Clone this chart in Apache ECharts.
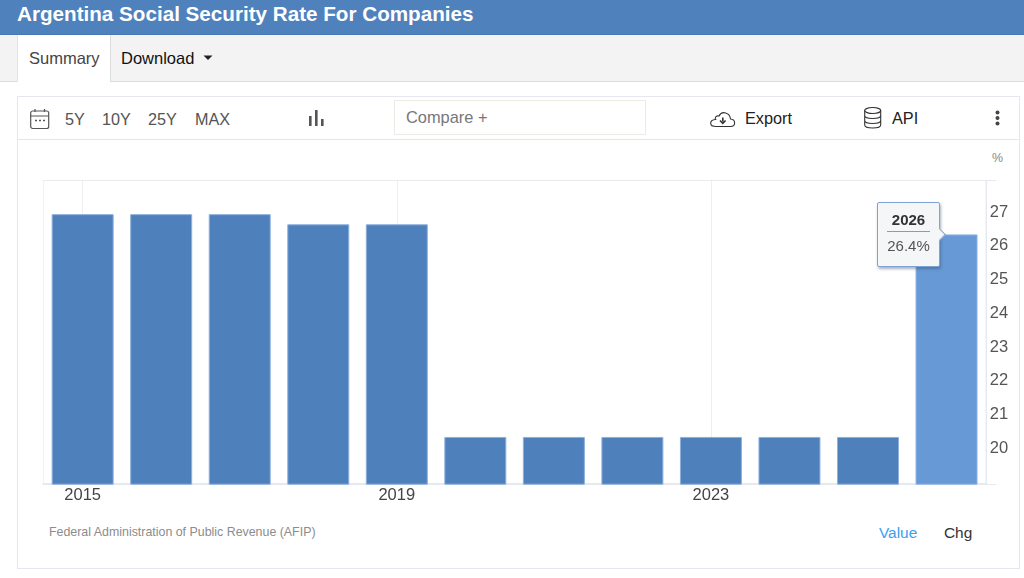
<!DOCTYPE html>
<html>
<head>
<meta charset="utf-8">
<title>Argentina Social Security Rate For Companies</title>
<script src="https://cdn.jsdelivr.net/npm/echarts@6/dist/echarts.min.js"></script>
<style>
html,body{margin:0;padding:0;width:1024px;height:578px;overflow:hidden;background:#fff;font-family:"Liberation Sans",Arial,sans-serif;}
.abs{position:absolute;white-space:nowrap;}
#chart{position:absolute;left:0;top:0;width:1024px;height:578px;}
svg{position:absolute;overflow:visible;}
</style>
</head>
<body>
<div class="abs" style="left:0;top:0;width:1024px;height:35px;background:#4f81bd;border-bottom:1px solid #4878b2;box-sizing:border-box;"></div>
<div class="abs" style="left:17px;top:1px;font-size:20.65px;line-height:26px;font-weight:bold;color:#fff;">Argentina Social Security Rate For Companies</div>
<div class="abs" style="left:0;top:35px;width:1024px;height:47px;background:#f3f3f3;border-bottom:1px solid #dcdcdc;box-sizing:border-box;"></div>
<div class="abs" style="left:17px;top:35px;width:94px;height:47px;background:#fff;border-left:1px solid #e4e4e4;border-right:1px solid #dcdcdc;box-sizing:border-box;"></div>
<div class="abs" style="left:29px;top:48px;font-size:16.5px;line-height:20px;color:#444;">Summary</div>
<div class="abs" style="left:121px;top:48px;font-size:16.5px;line-height:20px;color:#111;">Download</div>
<svg style="left:203px;top:55px" width="10" height="6"><path d="M0.5 0.5H9.5L5 5Z" fill="#222"/></svg>

<div class="abs" style="left:17px;top:96px;width:1003px;height:473px;border:1px solid #e6e6ee;box-sizing:border-box;"></div>
<div class="abs" style="left:18px;top:139px;width:1001px;height:1px;background:#e6e6e6;"></div>

<svg style="left:30px;top:108px" width="20" height="22" fill="none" stroke="#555" stroke-width="1.2">
  <rect x="0.7" y="3" width="18" height="17.5" rx="2"/><path d="M0.7 8H18.7M5 1V4M14.5 1V4"/>
  <path d="M5 12.5H7M9 12.5H11M13 12.5H15" stroke-width="1.6"/>
</svg>
<div class="abs" style="left:65px;top:109px;font-size:16.2px;line-height:20px;color:#555;">5Y</div>
<div class="abs" style="left:102px;top:109px;font-size:16.2px;line-height:20px;color:#555;">10Y</div>
<div class="abs" style="left:148px;top:109px;font-size:16.2px;line-height:20px;color:#555;">25Y</div>
<div class="abs" style="left:195px;top:109px;font-size:16.2px;line-height:20px;color:#555;">MAX</div>
<svg style="left:309px;top:110px" width="15" height="16" fill="#555">
  <rect x="0" y="6" width="2.6" height="10"/><rect x="6" y="0" width="2.6" height="16"/><rect x="12" y="9" width="2.6" height="7"/>
</svg>
<div class="abs" style="left:394px;top:100px;width:252px;height:35px;border:1px solid #ecece6;box-sizing:border-box;"></div>
<div class="abs" style="left:406px;top:107px;font-size:16.4px;line-height:20px;color:#777;">Compare +</div>
<svg style="left:710px;top:110px" width="26" height="18" fill="none" stroke="#333" stroke-width="1.1">
  <path d="M6 16.5H20.5C26 16.5 26 9.5 20.5 9C20 3 12 0 9 6C5 5 5 9 5.5 9.5C-1 10 -1 16.5 6 16.5Z"/>
  <path d="M12.8 7.5V11.5M10 10.5L12.8 13.3L15.6 10.5" stroke-width="1.6"/>
</svg>
<div class="abs" style="left:745px;top:108px;font-size:16.3px;line-height:20px;color:#222;">Export</div>
<svg style="left:864px;top:107px" width="18" height="22" fill="none" stroke="#333" stroke-width="1.1">
  <ellipse cx="8.7" cy="3.5" rx="8" ry="3"/>
  <path d="M0.7 3.5V18C0.7 22 16.7 22 16.7 18V3.5M0.7 8.5C0.7 12.5 16.7 12.5 16.7 8.5M0.7 13.5C0.7 17.5 16.7 17.5 16.7 13.5"/>
</svg>
<div class="abs" style="left:892px;top:108px;font-size:16.3px;line-height:20px;color:#222;">API</div>
<svg style="left:995px;top:110px" width="5" height="16" fill="#444">
  <circle cx="2.5" cy="2.5" r="2"/><circle cx="2.5" cy="8" r="2"/><circle cx="2.5" cy="13.5" r="2"/>
</svg>

<div class="abs" style="left:992px;top:151px;font-size:12.4px;line-height:14px;color:#888;">%</div>
<div class="abs" style="left:49px;top:525px;font-size:12.4px;line-height:15px;color:#8c8c8c;">Federal Administration of Public Revenue (AFIP)</div>
<div class="abs" style="left:879px;top:524px;font-size:15.4px;line-height:18px;color:#3d9ef0;">Value</div>
<div class="abs" style="left:944px;top:524px;font-size:15.4px;line-height:18px;color:#333;">Chg</div>

<div id="chart"></div>
<script>
const categories = ['2015','2016','2017','2018','2019','2020','2021','2022','2023','2024','2025','2026'];
const rateValues = [27, 27, 27, 26.7, 26.7, 20.4, 20.4, 20.4, 20.4, 20.4, 20.4, 26.4];
const yTickLabels = [20, 21, 22, 23, 24, 25, 26, 27];
const yAxisEnds = [19, 28];
const highlightedIndex = 11;

const chart = echarts.init(document.getElementById('chart'), null, {renderer: 'canvas'});
chart.setOption({
  animation: false,
  backgroundColor: 'transparent',
  grid: {left: 43.4, top: 180.4, width: 942.4, height: 303.8, show: true, borderColor: '#f1f1f1', borderWidth: 1, containLabel: false},
  tooltip: {
    trigger: 'item',
    alwaysShowContent: true,
    transitionDuration: 0,
    padding: 0,
    borderWidth: 0,
    backgroundColor: 'transparent',
    extraCssText: 'box-shadow:none;',
    position: function () { return [876.5, 201.5]; },
    formatter: function (p) {
      return '<div style="position:relative;box-sizing:border-box;width:63px;height:65px;background:#f5f6f7;border:1px solid #7ea4d6;border-radius:2px;box-shadow:1px 2px 3px rgba(60,80,110,.45);font-family:\'Liberation Sans\',Arial,sans-serif;text-align:center;">'
        + '<div style="position:absolute;right:-5px;top:27px;width:8px;height:8px;background:#f5f6f7;border-top:1px solid #7ea4d6;border-right:1px solid #7ea4d6;transform:rotate(45deg);"></div>'
        + '<div style="position:relative;margin:8px 9px 0;height:20px;line-height:18px;font-size:15px;font-weight:bold;color:#333;border-bottom:1px solid #999;">' + p.name + '</div>'
        + '<div style="position:relative;margin-top:5px;line-height:18px;font-size:15px;color:#555;">' + p.value.toFixed(1) + '%</div>'
        + '</div>';
    }
  },
  xAxis: {
    type: 'category',
    data: categories,
    axisTick: {show: false},
    axisLine: {show: true, lineStyle: {color: '#e6e9f0', width: 2}},
    axisLabel: {interval: 3, margin: 3, fontSize: 16.5, color: '#444', fontFamily: 'Liberation Sans'},
    splitLine: {show: true, alignWithLabel: true, interval: 3, lineStyle: {color: '#dedede', type: 'dotted', width: 1}}
  },
  yAxis: {
    type: 'value',
    position: 'right',
    min: 19,
    max: 28,
    interval: 1,
    axisLine: {show: true, lineStyle: {color: '#e6e9f0', width: 1}},
    axisTick: {show: true, length: 10, customValues: yAxisEnds, lineStyle: {color: '#e6e9f0', width: 1}},
    axisLabel: {customValues: yTickLabels, margin: 4, fontSize: 16.5, color: '#555', fontFamily: 'Liberation Sans', align: 'left', verticalAlign: 'bottom', lineHeight: 4},
    splitLine: {show: true, lineStyle: {color: '#e4e4e4', type: 'dotted', width: 1}}
  },
  series: [{
    type: 'bar',
    barWidth: 62,
    data: rateValues.map((v, i) => i === highlightedIndex
      ? {value: v, itemStyle: {color: '#6699d5', borderColor: '#8db4e3', borderWidth: 1}}
      : {value: v}),
    itemStyle: {color: '#4e80bc', borderColor: '#8fb0dc', borderWidth: 1},
    emphasis: {disabled: true}
  }]
});
chart.dispatchAction({type: 'showTip', seriesIndex: 0, dataIndex: highlightedIndex});
</script>
</body>
</html>
